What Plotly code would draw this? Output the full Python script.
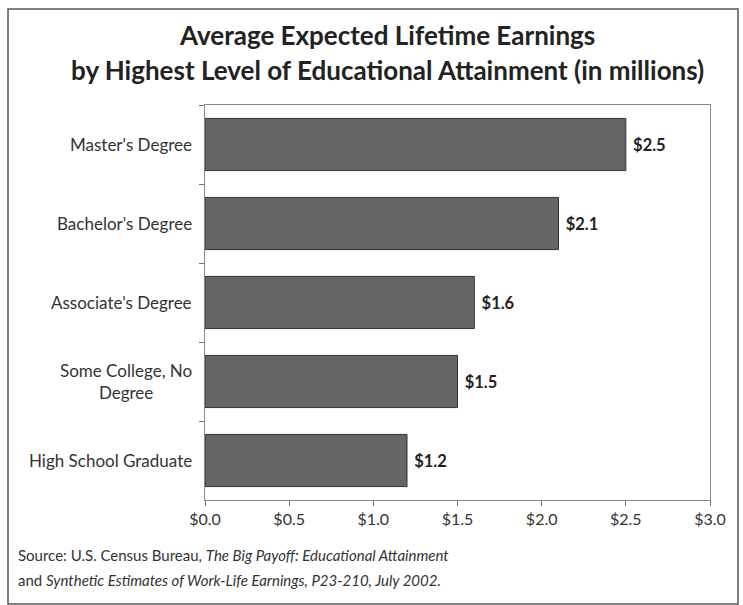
import plotly.graph_objects as go

categories = ["Master's Degree", "Bachelor's Degree", "Associate's Degree",
              "Some College, No<br>Degree", "High School Graduate"]
earnings = [2.5, 2.1, 1.6, 1.5, 1.2]
x_ticks = [0.0, 0.5, 1.0, 1.5, 2.0, 2.5, 3.0]
x_ticktext = ["$%.1f" % v for v in x_ticks]

W, H = 743, 605
L, R, T, B = 205, 710, 105, 500  # plot area pixel edges
pw, ph = R - L, B - T

def px(x):
    return (x - L) / pw

def py(y):
    return (B - y) / ph

FONT = "Lato"
TXT = "#333333"

fig = go.Figure()
fig.add_trace(go.Bar(
    y=categories, x=earnings, orientation="h",
    width=0.66,
    marker=dict(color="#666666", line=dict(color="#333333", width=1)),
    texttemplate=" <b>$%{x:.1f}</b>", textposition="outside",
    textfont=dict(family=FONT, size=16.5, color="#222222"),
    cliponaxis=False, hoverinfo="skip",
))

annotations = []
for c in categories:
    annotations.append(dict(
        x=0, xref="paper", y=c, yref="y", text=c, showarrow=False,
        xanchor="right", align="center", xshift=-11,
        font=dict(family=FONT, size=17, color=TXT),
    ))
annotations.append(dict(x=px(387), y=py(35), xref="paper", yref="paper",
    text="<b>Average Expected Lifetime Earnings</b>", showarrow=False,
    xanchor="center", yanchor="middle", font=dict(family=FONT, size=26, color="#222222")))
annotations.append(dict(x=px(387), y=py(70), xref="paper", yref="paper",
    text="<b>by Highest Level of Educational Attainment (in millions)</b>", showarrow=False,
    xanchor="center", yanchor="middle", font=dict(family=FONT, size=26, color="#222222")))
annotations.append(dict(x=px(16), y=py(555), xref="paper", yref="paper",
    text="Source: U.S. Census Bureau, <i>The Big Payoff: Educational Attainment</i>",
    showarrow=False, xanchor="left", yanchor="middle", align="left",
    font=dict(family=FONT, size=15, color=TXT)))
annotations.append(dict(x=px(16), y=py(580), xref="paper", yref="paper",
    text="and <i>Synthetic Estimates of Work-Life Earnings, P23-210, July 2002.</i>",
    showarrow=False, xanchor="left", yanchor="middle", align="left",
    font=dict(family=FONT, size=15, color=TXT)))

shapes = [dict(type="rect", xref="paper", yref="paper",
               x0=px(8), x1=px(738), y0=py(604), y1=py(9),
               line=dict(color="#555555", width=1.5), layer="below")]

fig.update_layout(
    width=W, height=H,
    margin=dict(l=L, r=W - R, t=T, b=H - B),
    paper_bgcolor="white", plot_bgcolor="white",
    showlegend=False,
    annotations=annotations, shapes=shapes,
    xaxis=dict(range=[0, 3], tickvals=x_ticks, ticktext=x_ticktext,
               ticks="outside", ticklen=5, tickcolor="#777777",
               showline=True, linecolor="#888888", linewidth=1, mirror=True,
               showgrid=False, zeroline=False,
               tickfont=dict(family=FONT, size=16, color=TXT)),
    yaxis=dict(autorange="reversed", showticklabels=False,
               ticks="outside", ticklen=5, tickson="boundaries", tickcolor="#777777",
               showline=True, linecolor="#888888", linewidth=1, mirror=True,
               showgrid=False, zeroline=False),
)

fig.write_html("out.html")
